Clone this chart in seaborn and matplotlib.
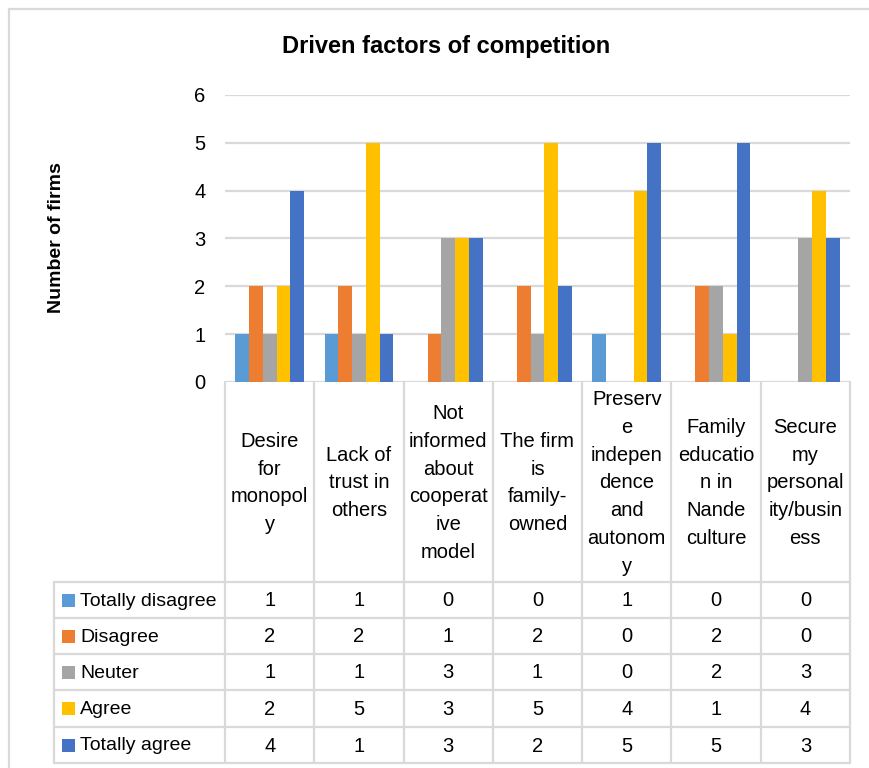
import matplotlib
matplotlib.use("Agg")
import matplotlib.pyplot as plt
from matplotlib.lines import Line2D
from matplotlib.patches import Rectangle
import numpy as np
import pandas as pd
import seaborn as sns

# Survey answers per driving factor
factors = [
    "Desire\nfor\nmonopol\ny",
    "Lack of\ntrust in\nothers",
    "Not\ninformed\nabout\ncooperat\nive\nmodel",
    "The firm\nis\nfamily-\nowned",
    "Preserv\ne\nindepen\ndence\nand\nautonom\ny",
    "Family\neducatio\nn in\nNande\nculture",
    "Secure\nmy\npersonal\nity/busin\ness",
]
levels = ["Totally disagree", "Disagree", "Neuter", "Agree", "Totally agree"]
totally_disagree = [1, 1, 0, 0, 1, 0, 0]
disagree = [2, 2, 1, 2, 0, 2, 0]
neuter = [1, 1, 3, 1, 0, 2, 3]
agree = [2, 5, 3, 5, 4, 1, 4]
totally_agree = [4, 1, 3, 2, 5, 5, 3]
yticks = [0, 1, 2, 3, 4, 5, 6]

colors = ["#5B9BD5", "#ED7D31", "#A5A5A5", "#FFC000", "#4472C4"]
series = [totally_disagree, disagree, neuter, agree, totally_agree]

rows = []
for lev, vals in zip(levels, series):
    for f, v in zip(factors, vals):
        rows.append({"factor": f, "level": lev, "count": v})
df = pd.DataFrame(rows)

sns.set_theme(style="white")
plt.rcParams["font.family"] = ["Liberation Sans", "DejaVu Sans"]

W, H = 870, 768
fig = plt.figure(figsize=(W / 100, H / 100), dpi=100)


def fx(x):
    return x / W


def fy(y):
    return 1 - y / H


grid_c = "#D9D9D9"
ax_l, ax_r, ax_t, ax_b = 225, 850, 95, 382
ax = fig.add_axes([fx(ax_l), fy(ax_b), fx(ax_r - ax_l), (ax_b - ax_t) / H])

sns.barplot(data=df, x="factor", y="count", hue="level", hue_order=levels,
            order=factors, palette=colors, width=0.77, saturation=1,
            linewidth=0, legend=False, ax=ax)

ax.set_xlim(-0.5, len(factors) - 0.5)
ax.set_ylim(0, 6)
ax.set_yticks(yticks)
ax.set_yticklabels([str(t) for t in yticks], fontsize=14.5, color="#000000")
ax.tick_params(axis="y", length=0, pad=14)
ax.set_xticks([])
ax.set_xlabel("")
ax.set_ylabel("")
ax.grid(axis="y", color=grid_c, linewidth=1.6)
ax.set_axisbelow(True)
for s in ax.spines.values():
    s.set_visible(False)

# Title and axis label
fig.text(fx(446), fy(47), "Driven factors of competition", ha="center",
         va="center", fontsize=17, fontweight="bold", color="#000000")
fig.text(fx(57), fy(238), "Number of firms", ha="center", va="center",
         rotation=90, fontsize=14, fontweight="bold", color="#000000")

# Data table beneath the plot
n = len(factors)
col_w = (ax_r - ax_l) / n
col_edges = [ax_l + k * col_w for k in range(n + 1)]
row_edges = [582, 618, 654, 690, 727, 763]
leg_l = 54
lw = 1.6


def fline(xs, ys):
    fig.add_artist(Line2D([fx(x) for x in xs], [fy(y) for y in ys],
                          transform=fig.transFigure, color=grid_c, linewidth=lw))


for x in col_edges:
    fline([x, x], [ax_b, row_edges[-1]])
for y in row_edges:
    fline([leg_l, ax_r], [y, y])
fline([leg_l, leg_l], [row_edges[0], row_edges[-1]])

# Category headers
for k, f in enumerate(factors):
    cx = (col_edges[k] + col_edges[k + 1]) / 2
    fig.text(fx(cx), fy((ax_b + row_edges[0]) / 2 + 1), f, ha="center",
             va="center", fontsize=14.5, linespacing=1.58, color="#000000")

# Legend keys, series names and values
for i, (lev, vals) in enumerate(zip(levels, series)):
    cy = (row_edges[i] + row_edges[i + 1]) / 2
    fig.add_artist(Rectangle((fx(62), fy(cy + 6.5)), fx(13), 13 / H,
                             transform=fig.transFigure, facecolor=colors[i],
                             edgecolor="none"))
    fig.text(fx(80), fy(cy + 1), lev, ha="left", va="center", fontsize=14,
             color="#000000")
    for k, v in enumerate(vals):
        cx = (col_edges[k] + col_edges[k + 1]) / 2
        fig.text(fx(cx), fy(cy + 1), str(v), ha="center", va="center",
                 fontsize=14.5, color="#000000")

# Chart border
fline([9, W], [9, 9])
fline([9, 9], [9, H])

fig.savefig("out.png", dpi=100)
